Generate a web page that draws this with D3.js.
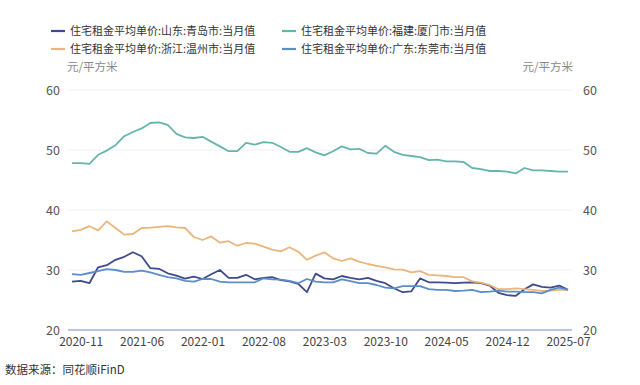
<!DOCTYPE html>
<html>
<head>
<meta charset="utf-8">
<script src="https://cdn.jsdelivr.net/npm/d3@7"></script>
<style>
    body { margin: 0; background: #fff; }
    svg text { font-family: "Noto Sans CJK SC", "Noto Sans", sans-serif; }
</style>
</head>
<body>
<svg width="640" height="385"></svg>
<script>
// monthly points, 2020-10 .. 2025-07
var months = d3.timeMonth.range(new Date(2020, 9, 1), new Date(2025, 7, 1)).map(d3.timeFormat("%Y-%m"));
var tickLabels = ["2020-11", "2021-06", "2022-01", "2022-08", "2023-03", "2023-10", "2024-05", "2024-12", "2025-07"];
var yTicks = [20, 30, 40, 50, 60];

var seriesNames = [
    "住宅租金平均单价:山东:青岛市:当月值",
    "住宅租金平均单价:福建:厦门市:当月值",
    "住宅租金平均单价:浙江:温州市:当月值",
    "住宅租金平均单价:广东:东莞市:当月值"
];
var seriesColors = ["#3f4a8c", "#66b5ad", "#ebb57b", "#5b8dca"];

var qingdao = [28.05, 28.2, 27.8, 30.45, 30.8, 31.7, 32.2, 32.95, 32.3, 30.3,
    30.2, 29.45, 29.05, 28.55, 28.9, 28.5, 29.3, 30.0, 28.7, 28.7,
    29.2, 28.45, 28.7, 28.8, 28.3, 28.1, 27.7, 26.3, 29.4, 28.6,
    28.45, 29.0, 28.7, 28.45, 28.7, 28.2, 27.8, 26.95, 26.3, 26.45,
    28.6, 27.95, 27.95, 27.9, 27.8, 27.9, 27.95, 27.8, 27.4, 26.2,
    25.8, 25.7, 26.8, 27.6, 27.2, 27.05, 27.4, 26.7];
var xiamen = [47.8, 47.8, 47.7, 49.2, 49.9, 50.8, 52.3, 53.0, 53.6, 54.5,
    54.6, 54.2, 52.7, 52.1, 52.0, 52.2, 51.4, 50.6, 49.8, 49.8,
    51.2, 50.9, 51.3, 51.2, 50.5, 49.7, 49.7, 50.3, 49.6, 49.1,
    49.8, 50.6, 50.1, 50.2, 49.5, 49.4, 50.7, 49.7, 49.2, 49.0,
    48.8, 48.3, 48.4, 48.1, 48.1, 48.0, 47.0, 46.8, 46.5, 46.5,
    46.4, 46.1, 47.0, 46.6, 46.6, 46.5, 46.4, 46.4];
var wenzhou = [36.45, 36.7, 37.3, 36.6, 38.1, 37.0, 35.9, 36.0, 37.0, 37.05,
    37.2, 37.3, 37.1, 37.0, 35.5, 35.0, 35.6, 34.55, 34.8, 34.05,
    34.5, 34.4, 33.9, 33.4, 33.1, 33.8, 33.05, 31.7, 32.4, 32.95,
    31.95, 31.5, 31.95, 31.4, 31.0, 30.7, 30.45, 30.1, 30.05, 29.6,
    29.8, 29.2, 29.1, 29.0, 28.8, 28.8, 28.1, 27.9, 27.5, 26.8,
    26.8, 26.95, 26.8, 26.7, 26.5, 26.55, 26.7, 26.7];
var dongguan = [29.3, 29.2, 29.5, 29.8, 30.15, 30.0, 29.7, 29.7, 29.9, 29.6,
    29.2, 28.8, 28.6, 28.2, 28.05, 28.5, 28.5, 28.05, 27.95, 27.95,
    27.95, 27.95, 28.6, 28.45, 28.4, 28.2, 27.8, 28.5, 28.05, 27.95,
    27.95, 28.45, 28.15, 27.8, 27.8, 27.5, 27.05, 26.95, 27.3, 27.3,
    27.3, 26.8, 26.7, 26.7, 26.5, 26.55, 26.7, 26.3, 26.4, 26.55,
    26.4, 26.4, 26.3, 26.3, 26.1, 26.7, 27.05, 26.7];

var seriesValues = [qingdao, xiamen, wenzhou, dongguan];

var svg = d3.select("svg"),
    plotLeft = 68, plotRight = 572, plotTop = 90, plotBottom = 330;

var x = d3.scalePoint().domain(months).range([72, 568]);
var y = d3.scaleLinear().domain([20, 60]).range([plotBottom, plotTop]);

// gridlines
svg.append("g").selectAll("line")
    .data(yTicks.slice(1))
    .enter().append("line")
    .attr("x1", plotLeft)
    .attr("x2", plotRight)
    .attr("y1", function (d) { return y(d); })
    .attr("y2", function (d) { return y(d); })
    .attr("stroke", "#efefef")
    .attr("stroke-width", 1);

// bottom axis line
svg.append("line")
    .attr("x1", plotLeft).attr("x2", plotRight)
    .attr("y1", plotBottom).attr("y2", plotBottom)
    .attr("stroke", "#7b8db5")
    .attr("stroke-width", 1.2);

// left and right value labels
var yLeft = d3.axisLeft(y).tickValues(yTicks).tickSize(0).tickPadding(0);
var gl = svg.append("g").attr("transform", "translate(60,0)").call(yLeft);
var yRight = d3.axisRight(y).tickValues(yTicks).tickSize(0).tickPadding(0);
var gr = svg.append("g").attr("transform", "translate(583,0)").call(yRight);
[gl, gr].forEach(function (g) {
    g.select(".domain").remove();
    g.selectAll("text")
        .attr("fill", "#555")
        .style("font-size", "12.5px");
});

// category axis labels
var xAxis = d3.axisBottom(x).tickValues(tickLabels).tickSize(0).tickPadding(0);
var gx = svg.append("g").attr("transform", "translate(0,337)").call(xAxis);
gx.select(".domain").remove();
gx.selectAll("text")
    .attr("fill", "#444")
    .attr("dy", "0.71em")
    .style("font-size", "12px");

// unit labels
svg.append("text").attr("x", 67).attr("y", 71)
    .attr("fill", "#888").style("font-size", "11.5px").text("元/平方米");
svg.append("text").attr("x", 573).attr("y", 71).attr("text-anchor", "end")
    .attr("fill", "#888").style("font-size", "11.5px").text("元/平方米");

// lines
var line = d3.line()
    .x(function (d, i) { return x(months[i]); })
    .y(function (d) { return y(d); });

svg.append("g").selectAll("path")
    .data(seriesValues)
    .enter().append("path")
    .attr("d", line)
    .attr("fill", "none")
    .attr("stroke", function (d, i) { return seriesColors[i]; })
    .attr("stroke-width", 1.8)
    .attr("stroke-linejoin", "round");

// legend, two per row
var legend = svg.append("g").selectAll("g")
    .data(seriesNames)
    .enter().append("g")
    .attr("transform", function (d, i) {
        return "translate(" + (i % 2 === 0 ? 51 : 282) + "," + (i < 2 ? 31 : 49) + ")";
    });
legend.append("line")
    .attr("x1", 0).attr("x2", 14)
    .attr("stroke", function (d, i) { return seriesColors[i]; })
    .attr("stroke-width", 2.2);
legend.append("text")
    .attr("x", 19)
    .attr("dy", "0.35em")
    .attr("fill", "#333")
    .style("font-size", "11px")
    .text(function (d) { return d; });

// source note
svg.append("text").attr("x", 5).attr("y", 374)
    .attr("fill", "#333").style("font-size", "11.5px").text("数据来源：同花顺iFinD");
</script>
</body>
</html>
